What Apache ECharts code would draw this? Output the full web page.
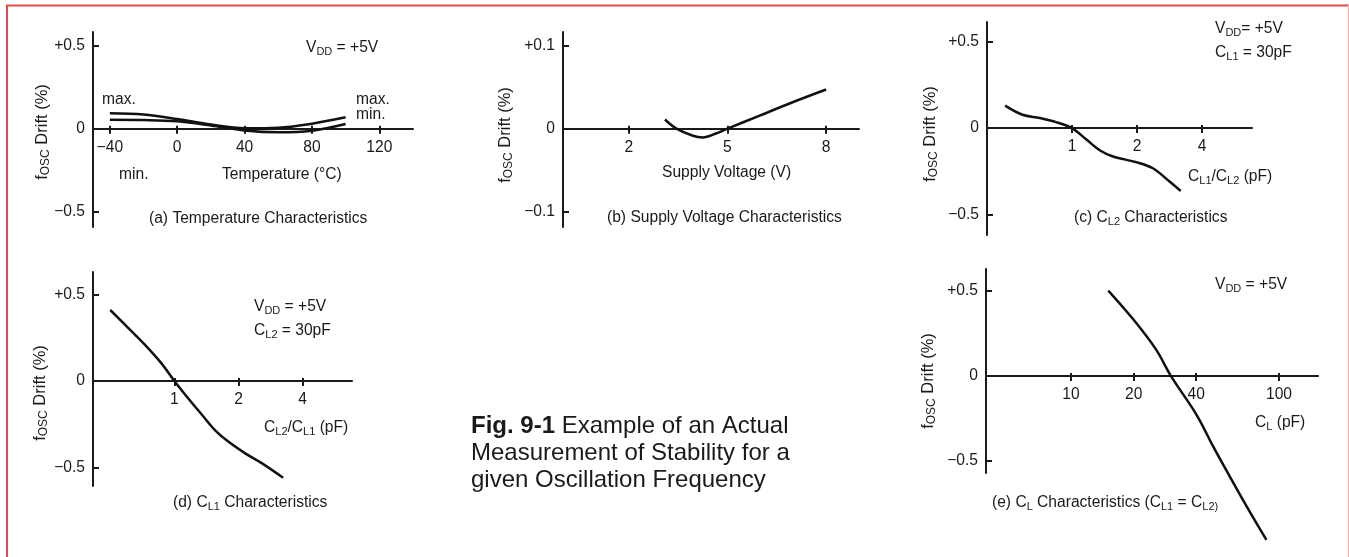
<!DOCTYPE html>
<html><head><meta charset="utf-8">
<script src="https://cdn.jsdelivr.net/npm/echarts@6/dist/echarts.min.js"></script>
<style>html,body{margin:0;padding:0;background:#fff}#c{width:1349px;height:557px}</style>
</head><body><div id="c"></div>
<script>
// ---- data ----
const tempC        = [-40, -20, 0, 20, 40, 60, 80, 100];
const tempDriftMax = [0.092, 0.085, 0.058, 0.025, 0.003, 0.006, 0.03, 0.068];
const tempDriftMin = [0.054, 0.052, 0.044, 0.019, -0.011, -0.022, -0.012, 0.028];

const supplyV      = [3.1, 3.45, 3.95, 4.25, 4.65, 5.0, 6.0, 7.0, 8.0];
const supplyDrift  = [0.011, 0, -0.0085, -0.0105, -0.0058, 0, 0.016, 0.032, 0.047];

const cl2Ratio     = [0.49, 0.59, 0.71, 0.85, 1.0, 1.17, 1.35, 1.55, 1.99, 2.37, 2.83, 3.19];
const cl2Drift     = [0.13, 0.077, 0.058, 0.033, 0, -0.068, -0.13, -0.165, -0.198, -0.233, -0.31, -0.365];

const cl1Ratio     = [0.50, 0.61, 0.73, 0.87, 1.0, 1.16, 1.35, 1.55, 1.79, 2.15, 2.58, 3.24];
const cl1Drift     = [0.411, 0.305, 0.208, 0.102, 0, -0.10, -0.197, -0.284, -0.351, -0.419, -0.477, -0.56];

const clPF         = [15.1, 20, 25.7, 30.2, 40.2, 48.3, 58, 70, 87];
const clDrift      = [0.502, 0.33, 0.153, 0, -0.23, -0.416, -0.592, -0.769, -0.965];

const tempTicks      = [-40, 0, 40, 80, 120];
const voltTicks      = [2, 5, 8];
const ratioTicks     = [1, 2, 4];
const clTicks        = [10, 20, 40, 100];
const driftTicks     = [-0.5, 0, 0.5];
const voltDriftTicks = [-0.1, 0, 0.1];

// ---- style ----
const FONT = '"Liberation Sans", Arial, Helvetica, sans-serif';
const INK = '#1a1a1a';
const FS = 15.6;
const SUB = 11;

function zip(xs, ys) { return xs.map((x, i) => [x, ys[i]]); }
function fmtDrift(v) { if (v > 0) return '+' + v; if (v < 0) return '\u2212' + Math.abs(v); return '0'; }
function fmtSigned(v) { return v < 0 ? '\u2212' + Math.abs(v) : String(v); }

const grids = [
  { left: 93,  top: 32,  width: 320, height: 195 },
  { left: 563, top: 32,  width: 296, height: 195 },
  { left: 987, top: 22,  width: 265, height: 213 },
  { left: 93,  top: 272, width: 259, height: 214 },
  { left: 986, top: 269, width: 332, height: 204 }
];

const xCfg = [
  { type: 'value', min: -50, max: 140, ticks: tempTicks },
  { type: 'value', min: 0, max: 9, ticks: voltTicks },
  { type: 'log', logBase: 2, min: 0.404, max: 6.82, ticks: ratioTicks },
  { type: 'log', logBase: 2, min: 0.415, max: 6.82, ticks: ratioTicks },
  { type: 'log', logBase: 10, min: 3.9, max: 154, ticks: clTicks }
];
const yCfg = [
  { min: -0.59, max: 0.58, ticks: driftTicks },
  { min: -0.118, max: 0.116, ticks: voltDriftTicks },
  { min: -0.62, max: 0.615, ticks: driftTicks },
  { min: -0.608, max: 0.631, ticks: driftTicks },
  { min: -0.571, max: 0.629, ticks: driftTicks }
];

const xAxis = [], yAxis = [];
xCfg.forEach((c, gi) => {
  const y = yCfg[gi];
  // move the x axis up so that it runs through y = 0 of its grid
  const off = -grids[gi].height * (0 - y.min) / (y.max - y.min);
  const base = { gridIndex: gi, type: c.type, min: c.min, max: c.max, position: 'bottom', offset: off,
    splitLine: { show: false }, minorTick: { show: false } };
  if (c.logBase) base.logBase = c.logBase;
  xAxis.push(Object.assign({}, base, {
    axisLine: { show: true, onZero: false, lineStyle: { color: INK, width: 2 } },
    axisTick: { show: true, inside: false, length: 5, customValues: c.ticks, lineStyle: { color: INK, width: 2 } },
    axisLabel: { show: true, customValues: c.ticks, formatter: fmtSigned, margin: 11,
      color: INK, fontSize: FS, fontFamily: FONT }
  }));
  xAxis.push(Object.assign({}, base, {
    axisLine: { show: false, onZero: false },
    axisTick: { show: true, inside: true, length: 3, customValues: c.ticks, lineStyle: { color: INK, width: 2 } },
    axisLabel: { show: false }
  }));
});
yCfg.forEach((c, gi) => {
  yAxis.push({ gridIndex: gi, type: 'value', min: c.min, max: c.max, position: 'left',
    splitLine: { show: false },
    axisLine: { show: true, onZero: false, lineStyle: { color: INK, width: 2 } },
    axisTick: { show: true, inside: true, length: 6, customValues: c.ticks, lineStyle: { color: INK, width: 2 } },
    axisLabel: { show: true, customValues: c.ticks, formatter: fmtDrift, margin: 8,
      color: INK, fontSize: FS, fontFamily: FONT }
  });
});

function curve(gi, data, clip) {
  return { type: 'line', xAxisIndex: gi * 2, yAxisIndex: gi, data: data, smooth: 0.35,
    showSymbol: false, symbol: 'none', clip: clip !== false, silent: true, animation: false,
    lineStyle: { color: '#111', width: 2.5 } };
}
const series = [
  curve(0, zip(tempC, tempDriftMax)),
  curve(0, zip(tempC, tempDriftMin)),
  curve(1, zip(supplyV, supplyDrift)),
  curve(2, zip(cl2Ratio, cl2Drift)),
  curve(3, zip(cl1Ratio, cl1Drift)),
  curve(4, zip(clPF, clDrift), false)
];

const rich = {
  n: { fontSize: FS, fontFamily: FONT, fill: INK, lineHeight: 18 },
  s: { fontSize: SUB, fontFamily: FONT, fill: INK, lineHeight: 7, verticalAlign: 'bottom' },
  b: { fontSize: 24, fontFamily: FONT, fill: INK, fontWeight: 'bold', lineHeight: 27 },
  c: { fontSize: 24, fontFamily: FONT, fill: INK, lineHeight: 27 }
};
function T(x, y, text, extra) {
  return Object.assign({ type: 'text', x: x, y: y, silent: true,
    style: { text: text, rich: rich, align: 'left', verticalAlign: 'middle', font: FS + 'px ' + FONT, fill: INK } }, extra || {});
}
function YN(x, y) {
  return { type: 'text', x: x, y: y, rotation: Math.PI / 2, silent: true,
    style: { text: '{y|f}{ys|OSC}{y| Drift (%)}', align: 'center', verticalAlign: 'middle',
      rich: { y: { fontSize: 16.5, fontFamily: FONT, fill: INK, lineHeight: 19 },
              ys: { fontSize: 12, fontFamily: FONT, fill: INK, lineHeight: 8, verticalAlign: 'bottom' } } } };
}

const graphic = [
  { type: 'line', silent: true, shape: { x1: 6, y1: 5.5, x2: 1349, y2: 5.5 }, style: { stroke: '#e24a4a', lineWidth: 2 } },
  { type: 'line', silent: true, shape: { x1: 7, y1: 5, x2: 7, y2: 557 }, style: { stroke: '#e24a4a', lineWidth: 2 } },
  { type: 'line', silent: true, shape: { x1: 1348.5, y1: 5, x2: 1348.5, y2: 557 }, style: { stroke: '#f3b0b0', lineWidth: 1 } },
  YN(42, 132), YN(505, 135), YN(930, 134), YN(40, 393), YN(928, 381),
  // (a)
  T(306, 48, '{n|V}{s|DD}{n| = +5V}'),
  T(102, 100, '{n|max.}'),
  T(119, 175, '{n|min.}'),
  T(222, 175, '{n|Temperature (°C)}'),
  T(356, 100, '{n|max.}'),
  T(356, 115, '{n|min.}'),
  T(149, 219, '{n|(a) Temperature Characteristics}'),
  // (b)
  T(662, 173, '{n|Supply Voltage (V)}'),
  T(607, 218, '{n|(b) Supply Voltage Characteristics}'),
  // (c)
  T(1215, 29, '{n|V}{s|DD}{n|= +5V}'),
  T(1215, 53, '{n|C}{s|L1}{n| = 30pF}'),
  T(1188, 177, '{n|C}{s|L1}{n|/C}{s|L2}{n| (pF)}'),
  T(1074, 218, '{n|(c) C}{s|L2}{n| Characteristics}'),
  // (d)
  T(254, 307, '{n|V}{s|DD}{n| = +5V}'),
  T(254, 331, '{n|C}{s|L2}{n| = 30pF}'),
  T(264, 428, '{n|C}{s|L2}{n|/C}{s|L1}{n| (pF)}'),
  T(173, 503, '{n|(d) C}{s|L1}{n| Characteristics}'),
  // (e)
  T(1215, 285, '{n|V}{s|DD}{n| = +5V}'),
  T(1255, 423, '{n|C}{s|L}{n| (pF)}'),
  T(992, 503, '{n|(e) C}{s|L}{n| Characteristics (C}{s|L1}{n| = C}{s|L2)}'),
  // caption
  { type: 'text', x: 471, y: 413, silent: true,
    style: { text: '{b|Fig. 9-1}{c| Example of an Actual}\n{c|Measurement of Stability for a}\n{c|given Oscillation Frequency}',
      rich: rich, align: 'left', verticalAlign: 'top', fill: INK } }
];

const chart = echarts.init(document.getElementById('c'), null, { renderer: 'canvas' });
chart.setOption({
  animation: false,
  backgroundColor: '#fff',
  grid: grids.map(g => Object.assign({ containLabel: false }, g)),
  xAxis: xAxis,
  yAxis: yAxis,
  series: series,
  graphic: graphic
});
</script></body></html>
